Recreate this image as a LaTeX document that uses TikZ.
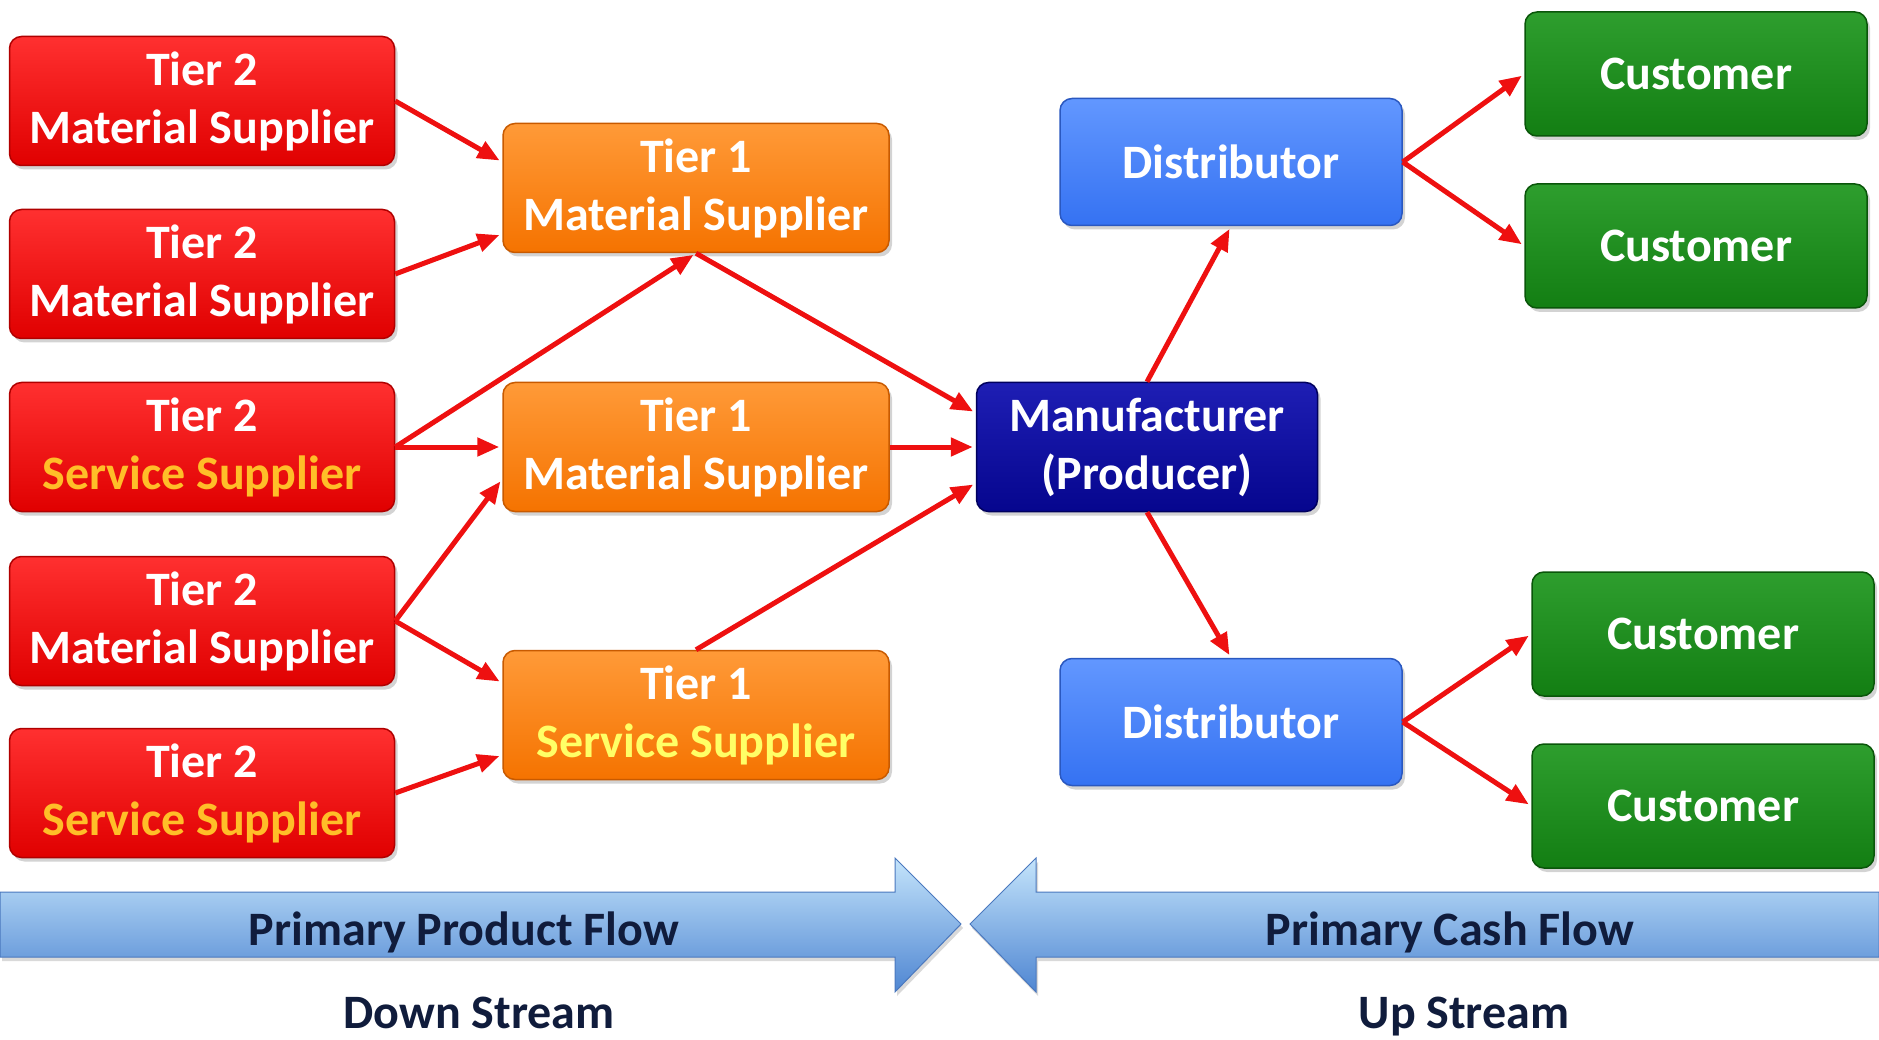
\documentclass[tikz,border=0pt]{standalone}
\usepackage{fontspec}
\setmainfont{Carlito}
\usetikzlibrary{shadows,arrows.meta}
\definecolor{redtop}{HTML}{FF3030}
\definecolor{redbot}{HTML}{E00000}
\definecolor{redline}{HTML}{B00000}
\definecolor{orangetop}{HTML}{FF9A38}
\definecolor{orangebot}{HTML}{F57300}
\definecolor{orangeline}{HTML}{C85A00}
\definecolor{manuftop}{HTML}{1E1EB4}
\definecolor{manufbot}{HTML}{06068E}
\definecolor{manufline}{HTML}{00005E}
\definecolor{disttop}{HTML}{6297FF}
\definecolor{distbot}{HTML}{3572F2}
\definecolor{distline}{HTML}{2A58C0}
\definecolor{custtop}{HTML}{2E9E2E}
\definecolor{custbot}{HTML}{137E13}
\definecolor{custline}{HTML}{0A560A}
\definecolor{svconred}{HTML}{FFBE28}
\definecolor{svconorange}{HTML}{FFFF66}
\definecolor{linkred}{HTML}{EE1010}
\definecolor{flowtop}{HTML}{C4E4FB}
\definecolor{flowmid}{HTML}{82B4EE}
\definecolor{flowbot}{HTML}{4F86D2}
\definecolor{flowline}{HTML}{4A78BE}
\definecolor{flowtext}{HTML}{101C3C}
\begin{document}
\begin{tikzpicture}[x=1pt,y=-1pt,
  box/.style={rounded corners=12pt, line width=1.5pt, align=center, inner sep=0pt, text=white,
    font=\bfseries\fontsize{48}{58}\selectfont,
    drop shadow={opacity=0.35,shadow xshift=3pt,shadow yshift=-4pt}},
  tiertwo/.style={box, draw=redline, top color=redtop, bottom color=redbot, minimum width=385pt, minimum height=129pt},
  tierone/.style={box, draw=orangeline, top color=orangetop, bottom color=orangebot, minimum width=386pt, minimum height=129pt},
  maker/.style={box, draw=manufline, top color=manuftop, bottom color=manufbot, minimum width=341pt, minimum height=129pt},
  distbox/.style={box, draw=distline, top color=disttop, bottom color=distbot, minimum width=342pt, minimum height=127pt},
  custbox/.style={box, draw=custline, top color=custtop, bottom color=custbot, minimum width=342pt, minimum height=124pt},
  link/.style={draw=linkred, line width=5pt, shorten >=3pt, -{Triangle[length=22pt,width=18pt]}},
  flow/.style={draw=flowline, line width=1pt, top color=flowtop, middle color=flowmid, bottom color=flowbot,
    drop shadow={opacity=0.3,shadow xshift=2pt,shadow yshift=-4pt}},
  flowlabel/.style={text=flowtext, inner sep=0pt, font=\bfseries\fontsize{48}{58}\selectfont}]
\useasboundingbox (0,0) rectangle (1879,1040);

% tier 2 suppliers
\node[tiertwo] (t2a) at (202,101) {Tier 2\\Material Supplier};
\node[tiertwo] (t2b) at (202,274) {Tier 2\\Material Supplier};
\node[tiertwo] (t2c) at (202,447) {Tier 2\\\color{svconred}Service Supplier};
\node[tiertwo] (t2d) at (202,621) {Tier 2\\Material Supplier};
\node[tiertwo] (t2e) at (202,793) {Tier 2\\\color{svconred}Service Supplier};

% tier 1 suppliers
\node[tierone] (t1a) at (696,188) {Tier 1\\Material Supplier};
\node[tierone] (t1b) at (696,447) {Tier 1\\Material Supplier};
\node[tierone] (t1c) at (696,715) {Tier 1\\\color{svconorange}Service Supplier};

\node[maker] (maker) at (1147,447) {Manufacturer\\(Producer)};

\node[distbox] (dist1) at (1231,162) {Distributor};
\node[distbox] (dist2) at (1231,722) {Distributor};

\node[custbox] (cust1) at (1696,74) {Customer};
\node[custbox] (cust2) at (1696,246) {Customer};
\node[custbox] (cust3) at (1703,634) {Customer};
\node[custbox] (cust4) at (1703,806) {Customer};

% connectors
\draw[link] (t2a.east) -- ([yshift=26pt]t1a.west);
\draw[link] (t2b.east) -- ([yshift=-46pt]t1a.west);
\draw[link] (t2c.east) -- (t1a.south);
\draw[link] (t2c.east) -- (t1b.west);
\draw[link] (t2d.east) -- ([yshift=-32pt]t1b.west);
\draw[link] (t2d.east) -- ([yshift=32pt]t1c.west);
\draw[link] (t2e.east) -- ([yshift=-40pt]t1c.west);
\draw[link] (t1a.south) -- ([yshift=34pt]maker.west);
\draw[link] (t1b.east) -- (maker.west);
\draw[link] (t1c.north) -- ([yshift=-36pt]maker.west);
\draw[link] (maker.north) -- (dist1.south);
\draw[link] (maker.south) -- (dist2.north);
\draw[link] (dist1.east) -- (cust1.west);
\draw[link] (dist1.east) -- (cust2.west);
\draw[link] (dist2.east) -- (cust3.west);
\draw[link] (dist2.east) -- (cust4.west);

% flow arrows
\draw[flow] (0,892) -- (895,892) -- (895,858) -- (961,924) -- (895,992) -- (895,957) -- (0,957) -- cycle;
\draw[flow] (1879,892) -- (1036,892) -- (1036,858) -- (970,924) -- (1036,992) -- (1036,957) -- (1879,957) -- cycle;
\node[flowlabel] (prodflow) at (464,932) {Primary Product Flow};
\node[flowlabel] (cashflow) at (1450,932) {Primary Cash Flow};
\node[flowlabel, anchor=base] (down) at (479,1028) {Down Stream};
\node[flowlabel, anchor=base] (up) at (1464,1028) {Up Stream};
\end{tikzpicture}
\end{document}
